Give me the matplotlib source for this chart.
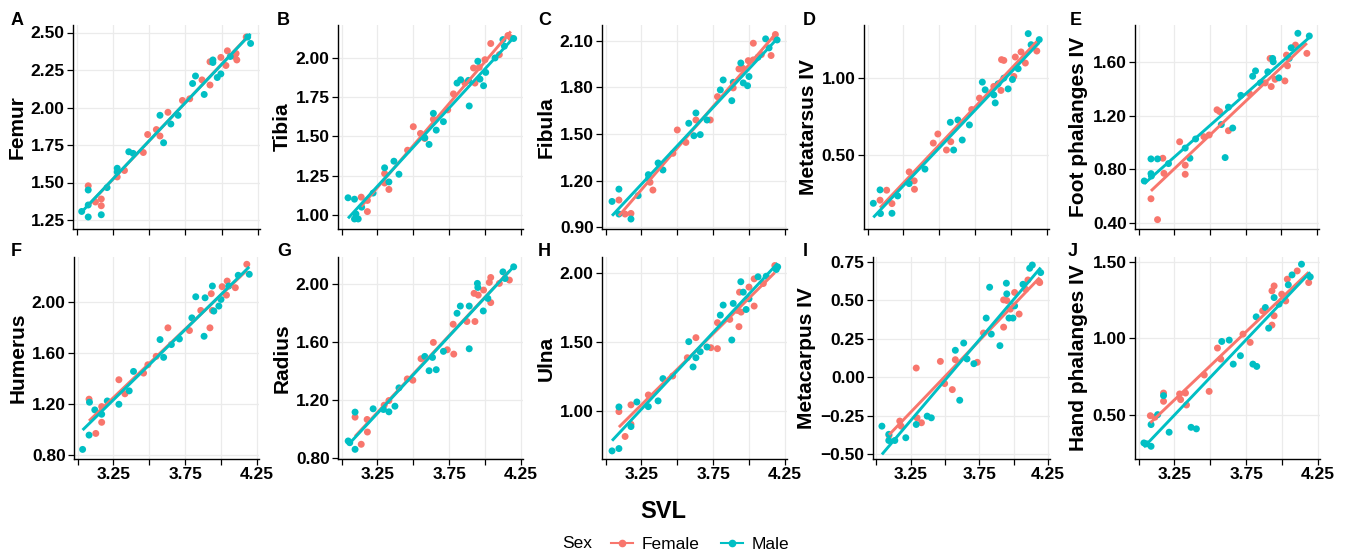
import numpy as np
import matplotlib
matplotlib.use("Agg")
import matplotlib.pyplot as plt
from matplotlib.lines import Line2D
from matplotlib.ticker import FixedLocator, FuncFormatter

plt.rcParams['font.family'] = ['Liberation Sans', 'DejaVu Sans']

FEMALE = '#F8766D'
MALE = '#00BFC4'

# ---- data (SVL vs. log trait), per panel and sex ----
femur_f_x = [3.08, 3.13, 3.17, 3.17, 3.28, 3.33, 3.46, 3.49, 3.55, 3.575, 3.63, 3.73, 3.78, 3.865, 3.92, 3.92, 3.995, 4.03, 4.04, 4.09, 4.105, 4.17, 4.10]
femur_f_y = [1.478, 1.37, 1.39, 1.345, 1.537, 1.58, 1.70, 1.82, 1.853, 1.81, 1.968, 2.047, 2.058, 2.184, 2.15, 2.305, 2.334, 2.28, 2.378, 2.34, 2.317, 2.47, 2.36]
femur_m_x = [3.035, 3.08, 3.08, 3.08, 3.17, 3.21, 3.28, 3.28, 3.36, 3.39, 3.575, 3.60, 3.65, 3.70, 3.80, 3.82, 3.88, 3.94, 3.94, 3.97, 3.995, 4.06, 4.18, 4.20]
femur_m_y = [1.307, 1.45, 1.27, 1.35, 1.285, 1.466, 1.595, 1.57, 1.705, 1.694, 1.948, 1.765, 1.89, 1.948, 2.16, 2.21, 2.087, 2.317, 2.30, 2.20, 2.224, 2.34, 2.47, 2.427]

tibia_f_x = [3.137, 3.18, 3.18, 3.30, 3.30, 3.33, 3.46, 3.50, 3.55, 3.58, 3.64, 3.74, 3.78, 3.86, 3.92, 3.93, 3.96, 4.00, 4.04, 4.10, 4.16, 4.18]
tibia_f_y = [1.113, 1.092, 1.021, 1.263, 1.203, 1.162, 1.412, 1.562, 1.519, 1.487, 1.609, 1.669, 1.771, 1.84, 1.936, 1.84, 1.94, 1.989, 2.092, 2.021, 2.143, 2.128]
tibia_m_x = [3.045, 3.09, 3.09, 3.10, 3.116, 3.14, 3.22, 3.30, 3.33, 3.365, 3.40, 3.58, 3.61, 3.64, 3.66, 3.71, 3.805, 3.83, 3.89, 3.885, 3.95, 3.965, 3.99, 4.005, 4.07, 4.125, 4.135, 4.20]
tibia_m_y = [1.109, 1.10, 0.974, 1.006, 0.974, 1.049, 1.139, 1.30, 1.21, 1.342, 1.259, 1.491, 1.449, 1.647, 1.54, 1.594, 1.84, 1.861, 1.694, 1.857, 1.979, 1.865, 1.823, 1.908, 2.00, 2.117, 2.075, 2.124]

fibula_f_x = [3.093, 3.136, 3.177, 3.33, 3.31, 3.47, 3.50, 3.56, 3.63, 3.73, 3.78, 3.89, 3.93, 3.957, 3.995, 4.03, 4.03, 4.086, 4.154, 4.184, 4.18]
fibula_f_y = [1.076, 0.986, 0.99, 1.14, 1.19, 1.376, 1.526, 1.446, 1.59, 1.59, 1.74, 1.796, 1.918, 1.922, 1.971, 2.083, 1.976, 2.01, 2.004, 2.139, 2.117]
fibula_m_x = [3.045, 3.093, 3.093, 3.177, 3.227, 3.298, 3.30, 3.366, 3.40, 3.58, 3.616, 3.63, 3.66, 3.707, 3.80, 3.82, 3.88, 3.89, 3.943, 3.96, 3.99, 4.00, 4.063, 4.116, 4.14, 4.196]
fibula_m_y = [1.067, 1.146, 0.986, 0.954, 1.104, 1.239, 1.215, 1.314, 1.269, 1.569, 1.489, 1.635, 1.496, 1.59, 1.783, 1.847, 1.714, 1.832, 1.956, 1.828, 1.81, 1.869, 1.993, 2.111, 2.053, 2.104]

metatarsus_f_x = [3.087, 3.133, 3.17, 3.29, 3.325, 3.327, 3.458, 3.49, 3.55, 3.58, 3.726, 3.78, 3.88, 3.93, 3.934, 3.95, 4.03, 4.02, 4.10, 4.07, 4.18]
metatarsus_f_y = [0.207, 0.272, 0.185, 0.391, 0.333, 0.278, 0.578, 0.637, 0.533, 0.587, 0.796, 0.87, 0.946, 0.92, 1.12, 1.115, 1.137, 1.011, 1.098, 1.17, 1.176]
metatarsus_m_x = [3.04, 3.087, 3.09, 3.17, 3.21, 3.29, 3.40, 3.577, 3.63, 3.60, 3.66, 3.71, 3.80, 3.82, 3.88, 3.89, 3.95, 3.98, 4.01, 4.05, 4.12, 4.14, 4.197, 3.91]
metatarsus_m_y = [0.187, 0.274, 0.12, 0.122, 0.235, 0.315, 0.409, 0.713, 0.728, 0.533, 0.598, 0.696, 0.974, 0.924, 0.891, 0.839, 1.00, 0.93, 0.991, 1.061, 1.289, 1.217, 1.25, 0.963]

footph_f_x = [3.087, 3.133, 3.17, 3.178, 3.288, 3.327, 3.327, 3.458, 3.495, 3.55, 3.568, 3.63, 3.778, 3.888, 3.922, 3.93, 3.957, 4.026, 4.037, 4.044, 4.10, 4.18]
footph_f_y = [0.581, 0.425, 0.884, 0.771, 1.007, 0.832, 0.764, 1.045, 1.058, 1.246, 1.233, 1.09, 1.366, 1.447, 1.63, 1.42, 1.474, 1.462, 1.655, 1.575, 1.73, 1.668]
footph_m_x = [3.04, 3.087, 3.087, 3.09, 3.133, 3.21, 3.327, 3.36, 3.40, 3.63, 3.58, 3.607, 3.66, 3.717, 3.80, 3.82, 3.854, 3.906, 3.94, 3.944, 3.984, 4.056, 4.07, 4.117, 4.197]
footph_m_y = [0.714, 0.879, 0.769, 0.751, 0.879, 0.844, 0.96, 0.884, 1.028, 1.266, 1.136, 0.889, 1.11, 1.354, 1.497, 1.537, 1.447, 1.53, 1.63, 1.605, 1.485, 1.63, 1.71, 1.818, 1.798]

humerus_f_x = [3.08, 3.127, 3.168, 3.168, 3.288, 3.33, 3.46, 3.49, 3.548, 3.63, 3.78, 3.859, 3.923, 3.932, 3.94, 4.008, 4.038, 4.043, 4.10, 4.18]
humerus_f_y = [1.238, 0.97, 1.057, 1.18, 1.39, 1.28, 1.442, 1.507, 1.573, 1.796, 1.775, 1.932, 1.796, 2.063, 1.932, 2.118, 2.052, 2.162, 2.11, 2.293]
humerus_m_x = [3.035, 3.083, 3.08, 3.12, 3.168, 3.207, 3.288, 3.36, 3.39, 3.575, 3.60, 3.654, 3.71, 3.797, 3.824, 3.882, 3.889, 3.94, 3.95, 3.985, 4.00, 4.054, 4.12, 4.197]
humerus_m_y = [0.845, 1.214, 0.957, 1.154, 1.12, 1.224, 1.198, 1.303, 1.455, 1.704, 1.565, 1.665, 1.709, 1.874, 2.039, 1.73, 2.031, 2.123, 1.927, 1.966, 2.018, 2.123, 2.207, 2.215]

radius_f_x = [3.094, 3.137, 3.178, 3.18, 3.297, 3.33, 3.458, 3.497, 3.554, 3.64, 3.737, 3.782, 3.778, 3.874, 3.93, 3.924, 3.953, 3.99, 4.03, 4.04, 4.04, 4.10, 4.17]
radius_f_y = [1.08, 0.892, 1.064, 0.977, 1.163, 1.195, 1.345, 1.336, 1.485, 1.598, 1.547, 1.517, 1.724, 1.743, 1.743, 1.938, 1.926, 1.961, 2.014, 2.048, 1.874, 2.007, 2.03]
radius_m_x = [3.046, 3.057, 3.094, 3.094, 3.22, 3.292, 3.33, 3.372, 3.40, 3.58, 3.61, 3.634, 3.66, 3.71, 3.805, 3.828, 3.89, 3.89, 3.947, 3.95, 3.988, 4.02, 4.125, 4.14, 4.20]
radius_m_y = [0.915, 0.903, 1.115, 0.857, 1.138, 1.133, 1.117, 1.156, 1.283, 1.501, 1.402, 1.494, 1.409, 1.536, 1.80, 1.85, 1.554, 1.85, 2.007, 1.979, 1.816, 1.903, 2.087, 2.041, 2.122]

ulna_f_x = [3.093, 3.136, 3.177, 3.177, 3.298, 3.468, 3.57, 3.63, 3.734, 3.78, 3.78, 3.866, 3.92, 3.93, 3.934, 3.945, 4.00, 4.036, 4.036, 4.10, 4.18]
ulna_f_y = [0.995, 0.814, 1.044, 0.903, 1.116, 1.254, 1.387, 1.533, 1.46, 1.453, 1.642, 1.666, 1.731, 1.613, 1.864, 1.719, 1.901, 1.961, 1.763, 1.927, 2.058]
ulna_m_x = [3.045, 3.093, 3.093, 3.177, 3.218, 3.298, 3.366, 3.40, 3.58, 3.61, 3.63, 3.66, 3.707, 3.80, 3.82, 3.88, 3.89, 3.943, 3.96, 3.98, 4.00, 4.063, 4.12, 4.19, 4.20]
ulna_m_y = [0.709, 1.029, 0.726, 0.886, 1.065, 1.031, 1.073, 1.235, 1.504, 1.32, 1.387, 1.431, 1.465, 1.697, 1.77, 1.516, 1.782, 1.94, 1.864, 1.738, 1.816, 1.976, 1.98, 2.029, 2.048]

metacarpus_f_x = [3.092, 3.17, 3.18, 3.29, 3.296, 3.328, 3.466, 3.497, 3.553, 3.575, 3.735, 3.78, 3.927, 3.927, 3.95, 3.976, 4.007, 4.04, 4.087, 4.104, 4.185, 4.19]
metacarpus_f_y = [-0.377, -0.284, -0.317, 0.06, -0.263, -0.295, 0.103, -0.041, -0.08, 0.114, 0.097, 0.287, 0.325, 0.502, 0.498, 0.442, 0.55, 0.41, 0.571, 0.631, 0.621, 0.614]
metacarpus_m_x = [3.04, 3.09, 3.09, 3.134, 3.214, 3.29, 3.37, 3.40, 3.575, 3.607, 3.636, 3.66, 3.71, 3.80, 3.825, 3.837, 3.90, 3.947, 3.95, 3.966, 3.995, 4.007, 4.068, 4.117, 4.136, 4.197]
metacarpus_m_y = [-0.317, -0.37, -0.41, -0.41, -0.392, -0.306, -0.252, -0.263, 0.175, -0.149, 0.222, 0.119, 0.088, 0.384, 0.584, 0.28, 0.205, 0.61, 0.541, 0.384, 0.384, 0.463, 0.603, 0.707, 0.728, 0.679]

handph_f_x = [3.082, 3.114, 3.174, 3.174, 3.286, 3.293, 3.327, 3.334, 3.458, 3.492, 3.55, 3.573, 3.728, 3.778, 3.865, 3.93, 3.945, 3.945, 3.93, 3.998, 4.026, 4.037, 4.106, 4.186]
handph_f_y = [0.493, 0.483, 0.641, 0.587, 0.635, 0.598, 0.641, 0.563, 0.759, 0.652, 0.935, 0.863, 1.026, 0.972, 1.178, 1.309, 1.341, 1.146, 1.085, 1.287, 1.243, 1.385, 1.439, 1.363]
handph_m_x = [3.037, 3.057, 3.087, 3.087, 3.133, 3.174, 3.213, 3.366, 3.403, 3.58, 3.632, 3.66, 3.71, 3.797, 3.824, 3.82, 3.884, 3.907, 3.945, 3.98, 4.044, 4.07, 4.136, 4.197]
handph_m_y = [0.315, 0.309, 0.293, 0.435, 0.50, 0.624, 0.385, 0.417, 0.407, 0.978, 0.987, 0.83, 0.885, 0.83, 0.815, 1.139, 1.20, 1.065, 1.265, 1.222, 1.348, 1.413, 1.483, 1.40]

letters = ['A', 'B', 'C', 'D', 'E', 'F', 'G', 'H', 'I', 'J']
traits = ['Femur', 'Tibia', 'Fibula', 'Metatarsus IV', 'Foot phalanges IV',
          'Humerus', 'Radius', 'Ulna', 'Metacarpus IV', 'Hand phalanges IV']
x_ticks = [3.0, 3.25, 3.5, 3.75, 4.0, 4.25]
x_labeled = [3.25, 3.75, 4.25]

panels = [
    (femur_f_x, femur_f_y, femur_m_x, femur_m_y, (1.19, 2.55), [1.25, 1.5, 1.75, 2.0, 2.25, 2.5]),
    (tibia_f_x, tibia_f_y, tibia_m_x, tibia_m_y, (0.91, 2.21), [1.0, 1.25, 1.5, 1.75, 2.0]),
    (fibula_f_x, fibula_f_y, fibula_m_x, fibula_m_y, (0.89, 2.20), [0.9, 1.2, 1.5, 1.8, 2.1]),
    (metatarsus_f_x, metatarsus_f_y, metatarsus_m_x, metatarsus_m_y, (0.02, 1.345), [0.5, 1.0]),
    (footph_f_x, footph_f_y, footph_m_x, footph_m_y, (0.355, 1.88), [0.4, 0.8, 1.2, 1.6]),
    (humerus_f_x, humerus_f_y, humerus_m_x, humerus_m_y, (0.77, 2.35), [0.8, 1.2, 1.6, 2.0]),
    (radius_f_x, radius_f_y, radius_m_x, radius_m_y, (0.79, 2.19), [0.8, 1.2, 1.6, 2.0]),
    (ulna_f_x, ulna_f_y, ulna_m_x, ulna_m_y, (0.65, 2.12), [1.0, 1.5, 2.0]),
    (metacarpus_f_x, metacarpus_f_y, metacarpus_m_x, metacarpus_m_y, (-0.53, 0.78), [-0.5, -0.25, 0.0, 0.25, 0.5, 0.75]),
    (handph_f_x, handph_f_y, handph_m_x, handph_m_y, (0.21, 1.53), [0.5, 1.0, 1.5]),
]

# axes boxes in pixels: (left, right) per panel, (top, bottom) per row
W, H = 1355, 560
cols = [(73, 260), (338, 523), (602, 787), (864, 1049), (1135, 1319),
        (74, 259), (338, 523), (602, 787), (873, 1050), (1135, 1320)]
rows = [(25, 229), (257, 459)]
letter_pos = [(11, 12), (277, 12), (538, 12), (803, 12), (1070, 12),
              (11, 243), (277, 243), (538, 243), (803, 243), (1068, 243)]


def fmt2(v, pos):
    return f"{v:.2f}".replace('-', '\u2212')


fig = plt.figure(figsize=(W / 100, H / 100), dpi=100)

for i, (fx, fy, mx, my, ylim, yticks) in enumerate(panels):
    l, r = cols[i]
    t, b = rows[i // 5]
    ax = fig.add_axes([l / W, 1 - b / H, (r - l) / W, (b - t) / H])

    ax.scatter(fx, fy, s=25, color=FEMALE, edgecolors='none', zorder=3)
    ax.scatter(mx, my, s=25, color=MALE, edgecolors='none', zorder=3)
    for xs, ys, c in ((fx, fy, FEMALE), (mx, my, MALE)):
        xs = np.asarray(xs)
        k, c0 = np.polyfit(xs, ys, 1)
        xx = np.array([xs.min(), xs.max()])
        ax.plot(xx, k * xx + c0, color=c, lw=2.1, zorder=4, solid_capstyle='butt')

    ax.set_xlim(2.975, 4.265)
    ax.set_ylim(*ylim)
    ax.xaxis.set_major_locator(FixedLocator(x_ticks))
    ax.yaxis.set_major_locator(FixedLocator(yticks))
    ax.yaxis.set_major_formatter(FuncFormatter(fmt2))
    if i >= 5:
        ax.set_xticklabels([f"{v:.2f}" if v in x_labeled else '' for v in x_ticks])
    else:
        ax.set_xticklabels([])

    ax.grid(True, color='#EBEBEB', lw=0.9, zorder=0)
    ax.set_axisbelow(True)
    for s in ('top', 'right'):
        ax.spines[s].set_visible(False)
    for s in ('left', 'bottom'):
        ax.spines[s].set_color('black')
        ax.spines[s].set_linewidth(1.0)
    ax.tick_params(direction='out', length=4, width=0.9, color='black',
                   labelsize=12.5, pad=2)
    for lab in ax.get_xticklabels() + ax.get_yticklabels():
        lab.set_fontweight('bold')
        lab.set_color('black')
    ax.set_ylabel(traits[i], fontsize=15, fontweight='bold', labelpad=3)

    lx, ly = letter_pos[i]
    fig.text(lx / W, 1 - ly / H, letters[i], fontsize=13, fontweight='bold',
             ha='left', va='top')

fig.text(663 / W, 1 - 512 / H, 'SVL', fontsize=17, fontweight='bold',
         ha='center', va='center')
fig.text(577 / W, 1 - 544 / H, 'Sex', fontsize=12.5, ha='center', va='center')
handles = [Line2D([], [], color=FEMALE, marker='o', markersize=4.5, lw=1.5),
           Line2D([], [], color=MALE, marker='o', markersize=4.5, lw=1.5)]
fig.legend(handles, ['Female', 'Male'], loc='center', bbox_to_anchor=(700 / W, 1 - 544 / H),
           ncol=2, frameon=False, fontsize=12.5, handlelength=1.3, handletextpad=0.5,
           columnspacing=1.2, borderpad=0)

fig.savefig('out.png', dpi=100, facecolor='white')
